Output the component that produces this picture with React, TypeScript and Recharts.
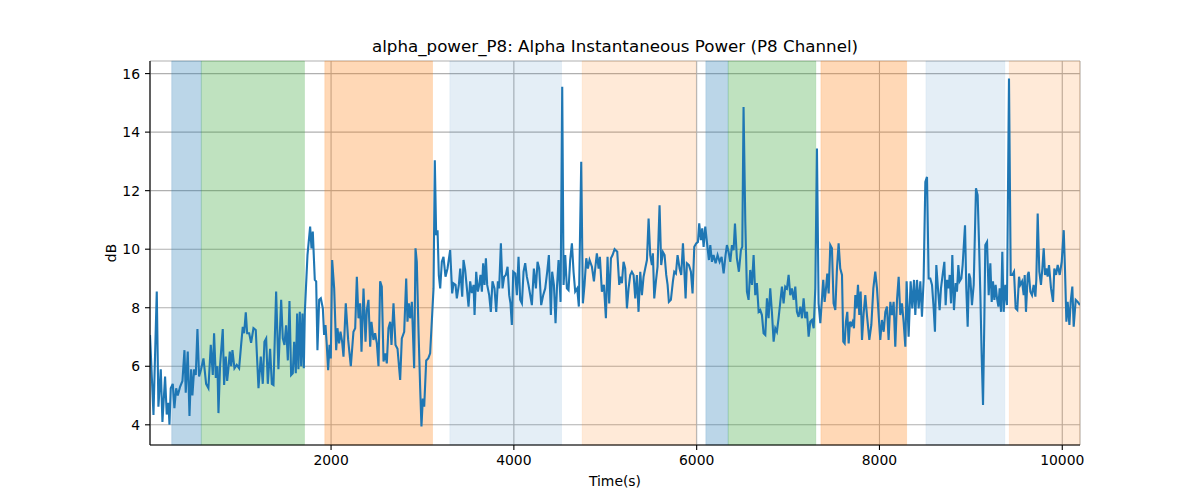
import React from "react";
import { LineChart, Line, XAxis, YAxis, CartesianGrid, ReferenceArea } from "recharts";

// sample times (s) and alpha power (dB)
const timeS = [
  19, 57, 93, 111, 137, 155, 184, 202, 221, 232,
  246, 268, 286, 305, 323, 348, 374, 396, 410, 432,
  451, 469, 483, 502, 520, 538, 556, 578, 604, 633,
  658, 684, 706, 720, 739, 757, 768, 786, 815, 830,
  848, 863, 877, 892, 907, 921, 943, 968, 994, 1016,
  1034, 1049, 1067, 1082, 1104, 1125, 1151, 1176, 1206, 1231,
  1253, 1271, 1290, 1308, 1333, 1352, 1370, 1399, 1424, 1454,
  1472, 1490, 1508, 1527, 1545, 1563, 1581, 1596, 1614, 1629,
  1643, 1658, 1673, 1687, 1702, 1713, 1742, 1771, 1786, 1800,
  1822, 1837, 1851, 1870, 1888, 1910, 1924, 1939, 1953, 1968,
  1983, 1997, 2012, 2034, 2056, 2070, 2088, 2103, 2121, 2136,
  2161, 2187, 2216, 2245, 2264, 2282, 2300, 2318, 2333, 2355,
  2377, 2391, 2409, 2428, 2442, 2464, 2482, 2501, 2519, 2537,
  2555, 2574, 2592, 2610, 2628, 2647, 2661, 2683, 2705, 2727,
  2756, 2774, 2800, 2822, 2836, 2851, 2865, 2884, 2909, 2924,
  2938, 2957, 2975, 2989, 3004, 3019, 3041, 3063, 3084, 3106,
  3121, 3135, 3150, 3165, 3179, 3194, 3212, 3230, 3252, 3274,
  3303, 3325, 3340, 3362, 3376, 3398, 3413, 3435, 3449, 3467,
  3486, 3504, 3522, 3540, 3559, 3570, 3588, 3606, 3621, 3635,
  3650, 3664, 3679, 3694, 3708, 3730, 3748, 3766, 3788, 3807,
  3825, 3839, 3858, 3876, 3894, 3912, 3931, 3949, 3963, 3978,
  3993, 4015, 4033, 4051, 4069, 4088, 4106, 4124, 4142, 4160,
  4179, 4197, 4219, 4241, 4259, 4277, 4299, 4321, 4343, 4365,
  4383, 4405, 4419, 4438, 4456, 4471, 4489, 4511, 4529, 4544,
  4562, 4580, 4598, 4616, 4635, 4653, 4671, 4693, 4711, 4737,
  4755, 4773, 4792, 4810, 4828, 4854, 4876, 4890, 4908, 4927,
  4941, 4963, 4985, 5007, 5025, 5043, 5062, 5080, 5102, 5131,
  5153, 5164, 5182, 5200, 5218, 5237, 5255, 5273, 5291, 5310,
  5328, 5346, 5364, 5383, 5401, 5419, 5437, 5456, 5474, 5492,
  5510, 5521, 5536, 5554, 5572, 5594, 5612, 5631, 5649, 5667,
  5682, 5696, 5718, 5740, 5755, 5773, 5791, 5813, 5831, 5850,
  5864, 5879, 5893, 5915, 5937, 5955, 5974, 5995, 6014, 6028,
  6046, 6061, 6076, 6094, 6112, 6134, 6149, 6167, 6185, 6207,
  6229, 6251, 6273, 6295, 6316, 6331, 6349, 6368, 6386, 6404,
  6419, 6440, 6462, 6484, 6499, 6513, 6532, 6550, 6568, 6586,
  6605, 6623, 6641, 6659, 6678, 6696, 6714, 6732, 6751, 6769,
  6787, 6805, 6824, 6842, 6860, 6878, 6896, 6915, 6933, 6951,
  6969, 6988, 7006, 7024, 7042, 7061, 7079, 7097, 7115, 7134,
  7152, 7170, 7188, 7207, 7225, 7243, 7261, 7280, 7298, 7316,
  7334, 7353, 7371, 7385, 7400, 7415, 7429, 7444, 7462, 7480,
  7498, 7517, 7535, 7553, 7571, 7590, 7604, 7619, 7633, 7648,
  7663, 7677, 7692, 7706, 7721, 7736, 7750, 7765, 7779, 7794,
  7809, 7827, 7845, 7863, 7889, 7911, 7933, 7954, 7973, 7991,
  8009, 8027, 8046, 8064, 8082, 8100, 8119, 8137, 8155, 8173,
  8192, 8210, 8228, 8246, 8264, 8283, 8297, 8319, 8341, 8359,
  8378, 8392, 8411, 8429, 8447, 8465, 8483, 8502, 8520, 8538,
  8556, 8575, 8593, 8607, 8622, 8640, 8658, 8673, 8691, 8710,
  8724, 8739, 8757, 8768, 8783, 8797, 8815, 8834, 8848, 8863,
  8877, 8896, 8910, 8936, 8950, 8965, 8980, 8994, 9012, 9031,
  9056, 9074, 9089, 9104, 9118, 9133, 9147, 9158, 9177, 9195,
  9213, 9228, 9242, 9257, 9271, 9286, 9301, 9315, 9330, 9344,
  9359, 9377, 9395, 9417, 9436, 9454, 9472, 9490, 9508, 9527,
  9541, 9560, 9578, 9589, 9603, 9622, 9633, 9651, 9669, 9687,
  9706, 9716, 9731, 9749, 9767, 9782, 9797, 9811, 9826, 9840,
  9855, 9877, 9899, 9913, 9932, 9950, 9972, 9994, 10016, 10030,
  10045, 10059, 10078, 10092, 10110, 10125, 10147, 10169, 10194,
];

const alphaDb = [
  7.07, 4.34, 8.55, 4.62, 5.9, 4.1, 5.65, 4.35, 4.75, 4.0,
  5.25, 5.4, 4.57, 5.25, 5.0, 5.3, 5.5, 6.55, 5.1, 6.5,
  4.3, 5.9, 5.0, 5.9, 5.7, 7.27, 5.65, 5.9, 6.27, 5.4,
  5.25, 6.73, 5.7, 7.13, 5.6, 6.0, 4.4, 6.05, 7.27, 5.36,
  6.33, 5.5, 5.93, 6.5, 6.0, 6.55, 5.93, 6.05, 5.93, 6.73,
  7.35, 7.13, 7.84, 7.13, 7.13, 6.8, 7.3, 7.24, 5.25, 6.33,
  5.4, 6.84, 6.95, 5.4, 6.6, 5.4, 5.36, 8.55, 5.9, 8.27,
  6.95, 6.73, 7.4, 6.2, 8.23, 5.7, 5.76, 6.84, 5.76, 7.8,
  5.9, 7.86, 6.0, 7.8, 5.93, 7.86, 9.8, 10.77, 10.03, 10.6,
  8.95, 8.9, 6.55, 8.27, 8.32, 7.98, 7.07, 7.41, 6.73, 5.87,
  6.73, 6.27, 9.63, 8.66, 6.55, 7.3, 6.78, 7.18, 6.84, 6.33,
  8.15, 6.9, 6.0, 7.18, 7.3, 9.06, 7.64, 8.15, 6.5, 8.66,
  6.84, 7.92, 8.27, 6.67, 7.52, 6.9, 7.13, 6.78, 6.0, 8.9,
  8.72, 6.16, 6.44, 6.1, 7.3, 7.52, 6.73, 8.15, 6.73, 6.6,
  5.53, 6.95, 7.18, 9.0, 7.52, 8.15, 7.64, 8.2, 5.93, 10.03,
  9.57, 7.18, 5.25, 3.94, 4.9, 4.62, 6.2, 6.27, 6.44, 7.75,
  8.66, 13.04, 10.48, 10.65, 9.1, 8.66, 9.57, 9.74, 9.06, 9.34,
  9.97, 8.49, 8.83, 8.78, 8.32, 8.78, 9.34, 8.38, 9.63, 9.29,
  8.66, 8.04, 8.9, 8.5, 8.78, 7.75, 9.23, 8.55, 8.78, 9.12,
  8.55, 9.52, 8.78, 9.69, 8.78, 8.43, 7.86, 8.9, 8.66, 7.86,
  8.9, 8.66, 10.2, 8.66, 9.06, 9.12, 9.4, 8.43, 8.15, 7.41,
  9.23, 9.17, 8.43, 9.74, 8.27, 8.15, 9.23, 9.52, 9.06, 8.78,
  8.43, 8.09, 9.34, 8.66, 9.57, 9.34, 8.09, 8.43, 8.66, 9.23,
  9.8, 7.75, 9.23, 8.78, 7.47, 8.66, 9.63, 8.2, 15.55, 8.78,
  9.8, 8.66, 8.6, 9.63, 10.2, 9.23, 8.55, 8.66, 8.04, 12.99,
  8.15, 8.78, 9.69, 9.34, 9.63, 9.4, 8.9, 9.34, 9.86, 9.34,
  9.74, 8.55, 8.78, 7.64, 9.74, 8.15, 9.69, 9.8, 10.0, 9.91,
  8.78, 9.06, 8.84, 9.57, 9.34, 7.98, 8.66, 9.12, 9.23, 9.12,
  8.32, 9.12, 7.86, 9.23, 8.43, 9.06, 9.34, 9.63, 11.05, 9.8,
  9.46, 9.86, 8.32, 8.9, 9.4, 11.5, 9.46, 9.9, 9.8, 9.12,
  8.78, 8.2, 8.27, 8.9, 9.23, 9.17, 9.8, 9.34, 9.12, 10.2,
  9.34, 8.32, 9.52, 9.46, 9.23, 8.49, 10.08, 10.2, 10.25, 10.88,
  10.31, 10.71, 10.08, 10.77, 10.25, 9.63, 10.14, 9.57, 9.8, 9.52,
  9.8, 9.57, 9.74, 9.17, 9.8, 10.14, 9.91, 9.57, 10.14, 9.97,
  10.88, 9.69, 9.23, 9.97, 10.08, 14.86, 10.94, 8.55, 8.27, 9.29,
  8.78, 9.8, 8.43, 8.84, 7.86, 7.92, 7.75, 7.13, 7.07, 8.32,
  7.64, 8.66, 7.81, 6.84, 7.3, 7.18, 7.64, 8.2, 8.72, 8.15,
  8.72, 8.66, 9.12, 8.43, 8.66, 8.27, 8.72, 7.86, 7.69, 8.04,
  7.64, 8.32, 7.64, 7.86, 7.01, 7.52, 7.58, 7.3, 8.66, 13.44,
  8.15, 7.47, 8.32, 8.95, 8.2, 8.66, 9.17, 8.49, 10.14, 10.03,
  8.15, 7.92, 9.34, 10.2, 9.34, 9.12, 6.84, 6.78, 7.52, 7.86,
  6.78, 7.52, 7.41, 7.52, 7.3, 8.43, 7.98, 8.78, 7.75, 8.55,
  6.9, 7.81, 8.43, 7.75, 6.9, 7.41, 8.66, 9.23, 8.66, 7.75,
  6.9, 7.58, 7.18, 7.86, 8.04, 6.9, 8.2, 7.75, 8.2, 6.67,
  8.27, 9.06, 7.75, 8.15, 7.52, 6.67, 8.9, 7.01, 8.9, 7.98,
  8.95, 7.75, 8.95, 7.98, 8.9, 7.69, 8.95, 12.3, 12.47, 9.0,
  9.0, 8.78, 7.98, 7.18, 9.46, 8.66, 7.92, 8.66, 9.12, 9.57,
  8.09, 8.95, 8.66, 9.12, 8.15, 9.8, 7.92, 8.84, 8.55, 9.46,
  8.9, 9.0, 9.46, 10.82, 8.66, 7.35, 9.17, 9.0, 8.09, 8.78,
  12.08, 11.85, 10.25, 8.43, 6.39, 4.68, 7.52, 10.14, 10.25, 8.43,
  9.52, 8.2, 8.9, 8.27, 8.78, 8.32, 8.04, 8.66, 7.86, 9.91,
  7.86, 8.78, 8.09, 15.83, 9.12, 9.12, 9.23, 7.98, 7.92, 9.06,
  8.78, 8.9, 8.43, 9.12, 7.86, 9.12, 9.23, 8.55, 8.43, 8.78,
  8.38, 8.95, 11.22, 9.23, 8.78, 9.34, 10.03, 9.12, 9.34, 9.06,
  9.46, 8.66, 8.2, 9.34, 9.12, 9.46, 9.12, 9.57, 10.65, 9.29,
  7.52, 8.2, 7.41, 8.2, 8.72, 7.35, 8.27, 8.2, 8.09,
];

const xTicks = [2000, 4000, 6000, 8000, 10000];
const yTicks = [4, 6, 8, 10, 12, 14, 16];

// shaded intervals (s)
const spanStart = [256, 581, 1931, 3299, 4747, 6100, 6345, 7359, 8508, 9420];
const spanEnd = [581, 1709, 3110, 4521, 5992, 6345, 7304, 8297, 9372, 10194];
const spanKind = ["blue", "green", "orange", "lightBlue", "lightOrange", "blue", "green", "orange", "lightBlue", "lightOrange"];

const spanStyle: Record<string, { color: string; opacity: number }> = {
  blue: { color: "#1f77b4", opacity: 0.3 },
  green: { color: "#2ca02c", opacity: 0.3 },
  orange: { color: "#ff7f0e", opacity: 0.3 },
  lightBlue: { color: "#1f77b4", opacity: 0.12 },
  lightOrange: { color: "#ff7f0e", opacity: 0.16 },
};

const FONT = "'DejaVu Sans', sans-serif";
const X_DOMAIN: [number, number] = [19, 10194];
const Y_DOMAIN: [number, number] = [3.31, 16.43];

const data = timeS.map((t, i) => ({ t, v: alphaDb[i] }));

export default function App() {
  const tickStyle = { fill: "#000", fontSize: 13.9, fontFamily: FONT };
  return (
    <div style={{ position: "absolute", left: 0, top: 0, width: 1200, height: 500, background: "#fff" }}>
      <LineChart width={1200} height={500} data={data} margin={{ top: 61, right: 120, bottom: 0, left: 0 }}>
        <CartesianGrid stroke="#b0b0b0" strokeWidth={1.1} />
        {spanStart.map((s, i) => {
          const st = spanStyle[spanKind[i]];
          return (
            <ReferenceArea
              key={i}
              x1={s}
              x2={spanEnd[i]}
              fill={st.color}
              fillOpacity={st.opacity}
              stroke={st.color}
              strokeOpacity={st.opacity * 0.5}
              strokeWidth={1}
            />
          );
        })}
        <XAxis
          dataKey="t"
          type="number"
          domain={X_DOMAIN}
          ticks={xTicks}
          allowDataOverflow
          height={55}
          tickSize={5}
          tickMargin={5}
          tick={tickStyle}
          tickLine={{ stroke: "#000", strokeWidth: 1.1 }}
          axisLine={{ stroke: "#000", strokeWidth: 1.1 }}
        />
        <XAxis
          xAxisId="top"
          orientation="top"
          type="number"
          domain={X_DOMAIN}
          height={0}
          tick={false}
          tickLine={false}
          axisLine={{ stroke: "#000", strokeWidth: 1.1 }}
        />
        <YAxis
          type="number"
          domain={Y_DOMAIN}
          ticks={yTicks}
          allowDataOverflow
          width={150}
          tickSize={5}
          tickMargin={5}
          tick={tickStyle}
          tickLine={{ stroke: "#000", strokeWidth: 1.1 }}
          axisLine={{ stroke: "#000", strokeWidth: 1.1 }}
        />
        <YAxis
          yAxisId="right"
          orientation="right"
          type="number"
          domain={Y_DOMAIN}
          width={0}
          tick={false}
          tickLine={false}
          axisLine={{ stroke: "#000", strokeWidth: 1.1 }}
        />
        <Line
          dataKey="v"
          type="linear"
          stroke="#1f77b4"
          strokeWidth={2.1}
          dot={false}
          activeDot={false}
          isAnimationActive={false}
        />
      </LineChart>
      <svg width={1200} height={500} style={{ position: "absolute", left: 0, top: 0, pointerEvents: "none" }}>
        <text x={615} y={52} textAnchor="middle" fontFamily={FONT} fontSize={16.7} fill="#000">
          alpha_power_P8: Alpha Instantaneous Power (P8 Channel)
        </text>
        <text x={615} y={485.5} textAnchor="middle" fontFamily={FONT} fontSize={13.9} fill="#000">
          Time(s)
        </text>
        <text
          x={115.5}
          y={253}
          textAnchor="middle"
          fontFamily={FONT}
          fontSize={13.9}
          fill="#000"
          transform="rotate(-90 115.5 253)"
        >
          dB
        </text>
      </svg>
    </div>
  );
}
